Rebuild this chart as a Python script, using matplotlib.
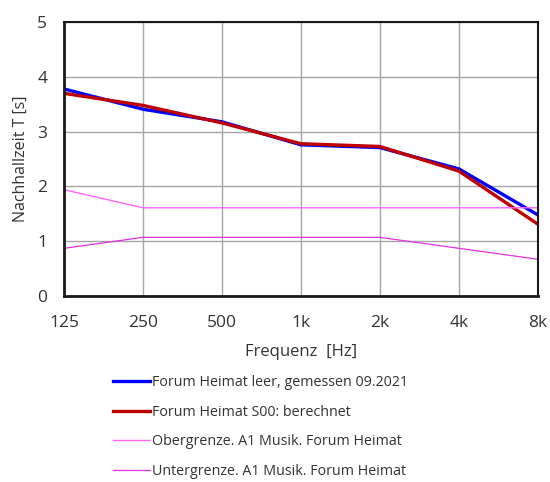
import matplotlib
matplotlib.use('Agg')
from matplotlib import pyplot as plt

plt.rcParams['font.family'] = ['Open Sans', 'DejaVu Sans']

# ---------------------------------------------------------
freq_labels = ['125', '250', '500', '1k', '2k', '4k', '8k']
t_measured = [3.78, 3.41, 3.18, 2.76, 2.71, 2.32, 1.48]
t_calculated = [3.70, 3.48, 3.16, 2.78, 2.73, 2.28, 1.31]
t_upper = [1.94, 1.61, 1.61, 1.61, 1.61, 1.61, 1.61]
t_lower = [0.87, 1.07, 1.07, 1.07, 1.07, 0.87, 0.67]

series_names = ['Forum Heimat leer, gemessen 09.2021',
                'Forum Heimat S00: berechnet',
                'Obergrenze. A1 Musik. Forum Heimat',
                'Untergrenze. A1 Musik. Forum Heimat']

fig = plt.figure(figsize=(5.5, 4.82), dpi=100)
ax = fig.add_axes([0.1164, 0.386, 0.8616, 0.568])

x = range(len(freq_labels))
ax.plot(x, t_measured, color='#0000FF', lw=2.4, label=series_names[0])
ax.plot(x, t_calculated, color='#C00000', lw=2.4, label=series_names[1])
ax.plot(x, t_upper, color='#FF66FF', lw=1.0, label=series_names[2])
ax.plot(x, t_lower, color='#E030E0', lw=0.9, label=series_names[3])

ax.set_xlim(0, len(freq_labels) - 1)
ax.set_ylim(0, 5)
ax.set_xticks(list(x))
ax.set_xticklabels(freq_labels)
ax.set_yticks(range(6))
ax.tick_params(length=0, labelsize=12.5, colors='#333333')
ax.tick_params(axis='x', pad=14)
ax.tick_params(axis='y', pad=12)
ax.grid(True, color='#A6A6A6', lw=1)
ax.set_axisbelow(True)
for side in ['left', 'bottom']:
    ax.spines[side].set_linewidth(2)
for side in ['top', 'right']:
    ax.spines[side].set_linewidth(1.5)
for s in ax.spines.values():
    s.set_color('#1a1a1a')

ax.set_xlabel('Frequenz  [Hz]', fontsize=12, color='#333333', labelpad=9)
ax.set_ylabel('Nachhallzeit T [s]', fontsize=11.5, color='#333333', labelpad=6)

fig.legend(loc='upper left', bbox_to_anchor=(0.205, 0.222), frameon=False,
           fontsize=10.3, handlelength=2.6, handletextpad=0.15,
           labelspacing=1.03, borderpad=0, borderaxespad=0, labelcolor='#333333')

fig.savefig('out.png', dpi=100)
